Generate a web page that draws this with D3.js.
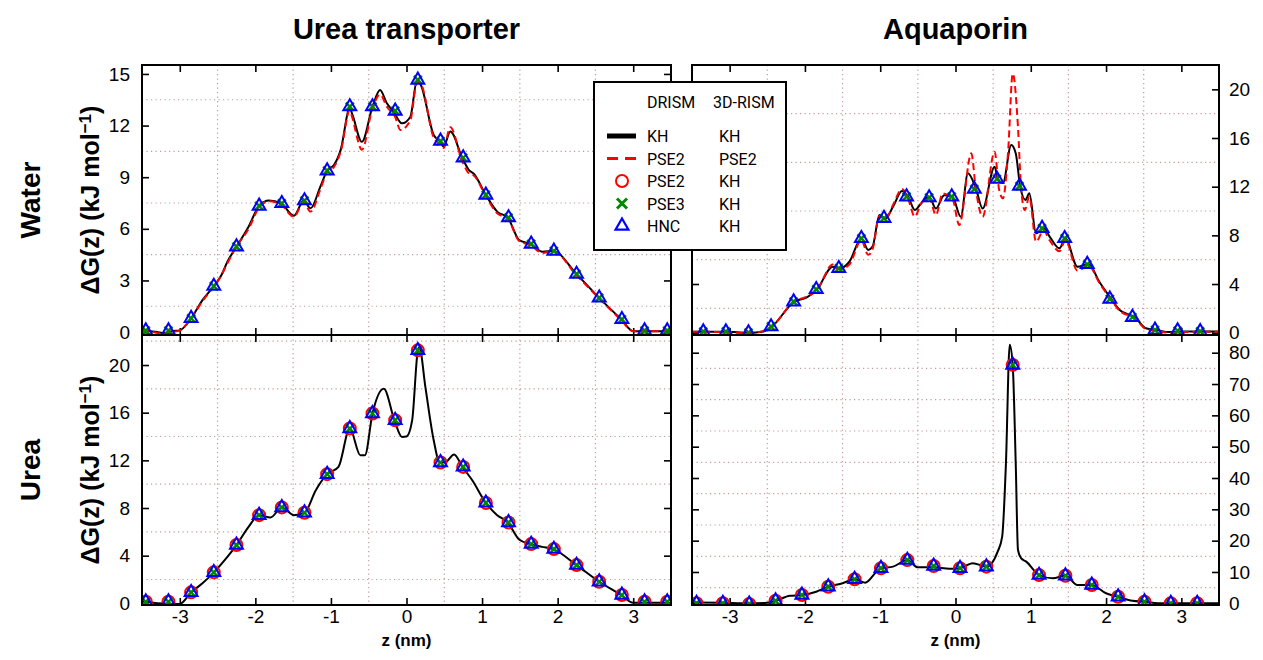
<!DOCTYPE html>
<html lang="en">
<head>
<meta charset="utf-8">
<title>Free energy profiles</title>
<script type="text/javascript" src="https://d3js.org/d3.v7.min.js"></script>
<style type="text/css">
  body { margin: 0; background: #fff; }
  text { font-family: "Liberation Sans", Arial, sans-serif; }
  .legend text { font-family: Roboto, "DejaVu Sans", sans-serif; font-size: 16px; }
</style>
</head>
<body>
<script type="text/javascript">

// ---- data (z in nm, dG in kJ/mol) ----
var zTicks = [-3, -2, -1, 0, 1, 2, 3];
var zGrid = [-2.5, -1.5, -0.5, 0.5, 1.5, 2.5];

var utWaterTicks = [0, 3, 6, 9, 12, 15];
var utWaterGrid = [1.5, 4.5, 7.5, 10.5, 13.5];
var aqpWaterTicks = [0, 4, 8, 12, 16, 20];
var aqpWaterGrid = [2, 6, 10, 14, 18];
var utUreaTicks = [0, 4, 8, 12, 16, 20];
var utUreaGrid = [2, 6, 10, 14, 18, 22];
var aqpUreaTicks = [0, 10, 20, 30, 40, 50, 60, 70, 80];
var aqpUreaGrid = [5, 15, 25, 35, 45, 55, 65, 75];

// urea transporter, water
var utWaterKH = [[-3.5,0.1],[-3.45,0.08],[-3.3,0.0],[-3.2,-0.05],[-3.1,0.05],[-3.0,0.1],[-2.85,0.8],[-2.7,1.86],
  [-2.55,2.67],[-2.45,3.3],[-2.37,4.09],[-2.25,4.96],[-2.09,6.12],[-1.95,7.33],[-1.82,7.64],[-1.66,7.48],
  [-1.49,6.76],[-1.36,7.64],[-1.27,7.19],[-1.14,8.45],[-1.05,9.38],[-0.96,9.7],[-0.87,10.6],[-0.75,13.0],
  [-0.72,12.7],[-0.59,11.06],[-0.45,13.1],[-0.35,14.07],[-0.26,13.3],[-0.17,12.8],[-0.06,12.13],[0.05,12.5],
  [0.14,14.65],[0.19,14.36],[0.36,11.45],[0.45,11.06],[0.49,10.77],[0.58,11.65],[0.74,10.1],[0.83,9.4],
  [0.89,9.2],[1.05,7.97],[1.2,7.0],[1.34,6.65],[1.49,5.35],[1.64,5.12],[1.8,4.67],[1.94,4.71],[2.25,3.37],
  [2.55,1.99],[2.84,0.74],[3.0,0.05],[3.5,0.05]];
var utWaterPSE2 = [[-3.5,0.1],[-3.45,0.08],[-3.3,-0.05],[-3.2,-0.1],[-3.1,0.0],[-3.0,0.1],[-2.85,0.8],[-2.7,1.8],
  [-2.55,2.65],[-2.45,3.3],[-2.37,4.0],[-2.25,4.96],[-2.09,6.0],[-1.95,7.25],[-1.82,7.6],[-1.66,7.4],
  [-1.49,6.7],[-1.36,7.55],[-1.27,7.0],[-1.14,8.3],[-1.05,9.3],[-0.96,9.6],[-0.87,10.5],[-0.75,12.9],
  [-0.72,12.5],[-0.59,10.6],[-0.45,13.0],[-0.35,13.8],[-0.26,13.1],[-0.15,12.5],[-0.08,11.74],[0.05,12.3],
  [0.14,14.5],[0.19,14.4],[0.36,11.3],[0.45,10.9],[0.49,10.7],[0.58,11.9],[0.74,9.9],[0.83,9.2],
  [0.89,9.1],[1.05,7.9],[1.2,6.9],[1.34,6.6],[1.49,5.3],[1.64,5.05],[1.8,4.6],[1.94,4.7],[2.25,3.3],
  [2.55,1.95],[2.84,0.7],[3.0,0.05],[3.5,0.05]];
var utWaterMarks = [[-3.45,0.08],[-3.15,0.08],[-2.85,0.8],[-2.55,2.67],[-2.25,4.96],[-1.95,7.33],[-1.65,7.48],
  [-1.35,7.64],[-1.05,9.38],[-0.75,13.1],[-0.45,13.1],[-0.15,12.85],[0.15,14.65],[0.45,11.1],[0.75,10.13],
  [1.05,7.97],[1.35,6.65],[1.65,5.12],[1.95,4.71],[2.25,3.37],[2.55,1.99],[2.85,0.74],[3.15,0.08],[3.45,0.08]];

// aquaporin, water
var aqpWaterKH = [[-3.5,0.08],[-3.05,0.08],[-2.75,0.0],[-2.55,0.1],[-2.44,0.5],[-2.14,2.55],[-1.98,2.88],
  [-1.84,3.56],[-1.63,5.42],[-1.54,5.29],[-1.41,5.83],[-1.25,7.75],[-1.16,6.8],[-1.1,7.1],[-1.01,9.67],
  [-0.93,9.4],[-0.83,10.35],[-0.71,11.64],[-0.63,11.18],[-0.54,10.08],[-0.46,10.6],[-0.35,11.18],[-0.26,10.2],
  [-0.15,11.3],[-0.04,11.18],[0.07,9.53],[0.165,13.1],[0.27,11.87],[0.36,10.2],[0.52,13.64],[0.56,12.7],
  [0.63,12.3],[0.74,15.42],[0.8,14.74],[0.86,12.0],[0.93,10.9],[0.98,11.45],[1.07,8.17],[1.17,8.58],
  [1.25,7.9],[1.38,6.93],[1.46,7.75],[1.62,5.42],[1.77,5.62],[1.91,4.19],[2.07,2.77],[2.18,1.87],
  [2.38,1.27],[2.53,0.36],[2.67,0.22],[2.84,0.05],[2.97,0.1],[3.5,0.1]];
var aqpWaterPSE2 = [[-3.5,0.08],[-3.05,0.05],[-2.75,-0.05],[-2.55,0.15],[-2.44,0.5],[-2.14,2.6],[-1.98,2.95],
  [-1.84,3.5],[-1.63,5.6],[-1.54,5.2],[-1.41,5.6],[-1.25,7.6],[-1.16,6.4],[-1.1,6.9],[-1.01,9.6],
  [-0.93,9.3],[-0.83,10.5],[-0.71,11.8],[-0.63,11.0],[-0.54,9.53],[-0.46,10.6],[-0.35,11.1],[-0.26,9.67],
  [-0.17,11.45],[-0.04,11.0],[0.05,8.85],[0.21,14.74],[0.27,11.8],[0.36,9.53],[0.52,14.87],[0.58,11.73],
  [0.63,11.04],[0.7,15.0],[0.76,21.3],[0.83,16.9],[0.87,12.0],[0.92,10.08],[0.98,11.18],[1.07,7.48],
  [1.17,8.4],[1.25,7.6],[1.38,6.7],[1.46,7.6],[1.62,5.1],[1.77,5.5],[1.91,4.1],[2.07,2.7],[2.18,1.8],
  [2.38,1.2],[2.53,0.3],[2.67,0.15],[2.84,0.0],[2.97,0.05],[3.5,0.08]];
var aqpWaterMarks = [[-3.35,0.08],[-3.05,0.08],[-2.75,0.0],[-2.45,0.5],[-2.15,2.55],[-1.85,3.56],[-1.55,5.29],
  [-1.25,7.75],[-0.95,9.4],[-0.65,11.18],[-0.35,11.1],[-0.05,11.18],[0.25,11.8],[0.55,12.63],[0.85,12.05],
  [1.15,8.58],[1.45,7.75],[1.75,5.62],[2.05,2.77],[2.35,1.27],[2.65,0.22],[2.95,0.16],[3.25,0.1]];

// urea transporter, urea
var utUreaKH = [[-3.5,0.13],[-3.45,0.13],[-3.3,0.0],[-3.0,-0.05],[-2.85,0.92],[-2.7,1.68],[-2.55,2.6],
  [-2.37,3.9],[-2.25,4.89],[-2.09,6.42],[-1.95,7.4],[-1.8,7.2],[-1.65,8.05],[-1.49,7.4],[-1.35,7.6],
  [-1.2,9.5],[-1.05,10.84],[-0.9,11.45],[-0.75,14.67],[-0.61,12.43],[-0.55,12.43],[-0.45,15.93],[-0.3,18.0],
  [-0.16,15.37],[-0.06,13.97],[0.0,14.0],[0.075,15.37],[0.15,21.23],[0.17,21.5],[0.25,18.15],[0.36,13.69],
  [0.44,11.82],[0.52,11.87],[0.63,12.5],[0.74,11.45],[0.87,10.33],[1.05,8.43],[1.2,7.4],[1.34,6.79],
  [1.49,5.36],[1.64,4.97],[1.79,4.74],[1.94,4.55],[2.25,3.21],[2.55,1.81],[2.84,0.7],[3.0,0.05],[3.5,0.05]];
var utUreaMarks = [[-3.45,0.13],[-3.15,0.13],[-2.85,0.92],[-2.55,2.6],[-2.25,4.89],[-1.95,7.4],[-1.65,8.05],
  [-1.35,7.6],[-1.05,10.84],[-0.75,14.67],[-0.45,15.93],[-0.15,15.37],[0.15,21.23],[0.45,11.82],[0.75,11.45],
  [1.05,8.43],[1.35,6.79],[1.65,4.97],[1.95,4.55],[2.25,3.21],[2.55,1.81],[2.85,0.7],[3.15,0.13],[3.45,0.13]];

// aquaporin, urea
var aqpUreaKH = [[-3.5,0.3],[-3.1,0.2],[-2.75,0.0],[-2.5,0.2],[-2.39,0.8],[-2.2,2.4],[-2.04,2.65],[-1.85,3.7],
  [-1.69,5.3],[-1.5,6.4],[-1.34,7.67],[-1.2,6.6],[-1.05,10.1],[-0.99,11.2],[-0.83,11.7],[-0.64,13.8],
  [-0.5,11.5],[-0.29,11.5],[-0.08,11.0],[0.06,11.2],[0.23,12.8],[0.41,11.7],[0.56,16.5],[0.62,21.3],
  [0.67,44.7],[0.72,82.5],[0.76,76.0],[0.8,44.7],[0.83,17.0],[0.87,14.4],[0.94,13.3],[1.11,9.0],[1.29,8.0],
  [1.46,8.8],[1.62,5.85],[1.81,5.85],[2.0,3.2],[2.16,2.1],[2.35,0.8],[2.51,0.5],[2.75,0.0],[3.5,0.0]];
var aqpUreaMarks = [[-3.44,0.0],[-3.09,0.0],[-2.74,-0.2],[-2.39,0.8],[-2.04,2.65],[-1.69,5.3],[-1.34,7.67],
  [-0.99,11.2],[-0.64,13.8],[-0.29,11.9],[0.06,11.2],[0.41,11.7],[0.76,76.1],[1.11,9.0],[1.46,8.8],
  [1.81,5.85],[2.16,2.1],[2.51,0.5],[2.86,0.0],[3.21,0.0]];

// ---- layout ----
var width = 1263, height = 660;
var colX = [[142, 671], [692, 1219]];
var rowY = [[65, 335], [335, 605]];

var panels = [
  { col: 0, row: 0, yDomain: [-0.17, 15.52], ticks: utWaterTicks, grid: utWaterGrid, side: "left",
    kh: utWaterKH, pse2: utWaterPSE2, marks: utWaterMarks, circles: false },
  { col: 1, row: 0, yDomain: [-0.19, 22.0], ticks: aqpWaterTicks, grid: aqpWaterGrid, side: "right",
    kh: aqpWaterKH, pse2: aqpWaterPSE2, marks: aqpWaterMarks, circles: false },
  { col: 0, row: 1, yDomain: [-0.14, 22.52], ticks: utUreaTicks, grid: utUreaGrid, side: "left",
    kh: utUreaKH, pse2: null, marks: utUreaMarks, circles: true },
  { col: 1, row: 1, yDomain: [-0.54, 85.65], ticks: aqpUreaTicks, grid: aqpUreaGrid, side: "right",
    kh: aqpUreaKH, pse2: null, marks: aqpUreaMarks, circles: true }
];

var svg = d3.select("body").append("svg")
  .attr("width", width)
  .attr("height", height);

var gridColor = "#c49a9a";
var tri = d3.symbol().type(d3.symbolTriangle).size(72);

panels.forEach(function(p, i) {
  var x0 = colX[p.col][0], x1 = colX[p.col][1];
  var y0 = rowY[p.row][0], y1 = rowY[p.row][1];

  var x = d3.scaleLinear().domain([-3.5, 3.5]).range([x0, x1]);
  var y = d3.scaleLinear().domain(p.yDomain).range([y1, y0]);

  var g = svg.append("g");

  g.append("clipPath").attr("id", "clip" + i)
    .append("rect").attr("x", x0).attr("y", y0).attr("width", x1 - x0).attr("height", y1 - y0);

  // dotted grid on the minor positions
  g.selectAll(".vg").data(zGrid).enter().append("line")
    .attr("x1", function(d) { return x(d); }).attr("x2", function(d) { return x(d); })
    .attr("y1", y0).attr("y2", y1)
    .attr("stroke", gridColor).attr("stroke-width", 1.2).attr("stroke-dasharray", "1.2,3.3");
  g.selectAll(".hg").data(p.grid).enter().append("line")
    .attr("x1", x0).attr("x2", x1)
    .attr("y1", function(d) { return y(d); }).attr("y2", function(d) { return y(d); })
    .attr("stroke", gridColor).attr("stroke-width", 1.2).attr("stroke-dasharray", "1.2,3.3");

  // axes, ticks pointing inwards on all four sides
  var tk = 7;
  var bottom = g.append("g").attr("transform", "translate(0," + y1 + ")")
    .call(d3.axisBottom(x).tickValues(zTicks).tickSize(-tk).tickPadding(5)
      .tickFormat(p.row === 1 ? function(d) { return d < 0 ? "-" + Math.abs(d) : d; } : ""));
  var top = g.append("g").attr("transform", "translate(0," + y0 + ")")
    .call(d3.axisTop(x).tickValues(zTicks).tickSize(-tk).tickFormat(""));
  var left = g.append("g").attr("transform", "translate(" + x0 + ",0)")
    .call(d3.axisLeft(y).tickValues(p.ticks).tickSize(-tk).tickPadding(12)
      .tickFormat(p.side === "left" ? d3.format("d") : ""));
  var right = g.append("g").attr("transform", "translate(" + x1 + ",0)")
    .call(d3.axisRight(y).tickValues(p.ticks).tickSize(-tk).tickPadding(10)
      .tickFormat(p.side === "right" ? d3.format("d") : ""));

  [bottom, top, left, right].forEach(function(a) {
    a.select(".domain").remove();
    a.selectAll("line").attr("stroke", "#000").attr("stroke-width", 1.6);
    a.selectAll("text").attr("font-size", 19).attr("fill", "#000")
      .style("font-family", "'Liberation Sans', Arial, sans-serif");
  });

  var plot = g.append("g").attr("clip-path", "url(#clip" + i + ")");

  var line = d3.line()
    .x(function(d) { return x(d[0]); })
    .y(function(d) { return y(d[1]); })
    .curve(d3.curveMonotoneX);

  plot.append("path").datum(p.kh)
    .attr("d", line).attr("fill", "none").attr("stroke", "#000").attr("stroke-width", 2);

  if (p.pse2) {
    plot.append("path").datum(p.pse2)
      .attr("d", line).attr("fill", "none").attr("stroke", "#f00").attr("stroke-width", 2)
      .attr("stroke-dasharray", "7,4");
  }

  if (p.circles) {
    plot.selectAll(".c").data(p.marks).enter().append("circle")
      .attr("cx", function(d) { return x(d[0]); })
      .attr("cy", function(d) { return y(d[1]); })
      .attr("r", 6).attr("fill", "none").attr("stroke", "#f00").attr("stroke-width", 2);
  }

  plot.selectAll(".x").data(p.marks).enter().append("path")
    .attr("d", function(d) {
      var cx = x(d[0]), cy = y(d[1]), s = 4;
      return "M" + (cx - s) + "," + (cy - s) + "L" + (cx + s) + "," + (cy + s) +
             "M" + (cx - s) + "," + (cy + s) + "L" + (cx + s) + "," + (cy - s);
    })
    .attr("stroke", "#008800").attr("stroke-width", 2.4);

  plot.selectAll(".t").data(p.marks).enter().append("path")
    .attr("d", tri)
    .attr("transform", function(d) { return "translate(" + x(d[0]) + "," + y(d[1]) + ")"; })
    .attr("fill", "none").attr("stroke", "#00f").attr("stroke-width", 2);

  g.append("rect")
    .attr("x", x0).attr("y", y0).attr("width", x1 - x0).attr("height", y1 - y0)
    .attr("fill", "none").attr("stroke", "#000").attr("stroke-width", 2);

  if (p.row === 1) {
    g.append("text")
      .attr("x", (x0 + x1) / 2).attr("y", 646)
      .attr("text-anchor", "middle").attr("font-size", 17).attr("font-weight", "bold")
      .text("z (nm)");
  }
  if (p.row === 0) {
    g.append("text")
      .attr("x", (x0 + x1) / 2).attr("y", 39)
      .attr("text-anchor", "middle").attr("font-size", 29).attr("font-weight", "bold")
      .text(p.col === 0 ? "Urea transporter" : "Aquaporin");
  }
  if (p.col === 0) {
    var cy = (y0 + y1) / 2;
    g.append("text")
      .attr("transform", "translate(40," + cy + ") rotate(-90)")
      .attr("text-anchor", "middle").attr("font-size", 28).attr("font-weight", "bold")
      .text(p.row === 0 ? "Water" : "Urea");
    var yl = g.append("text")
      .attr("transform", "translate(99," + cy + ") rotate(-90)")
      .attr("text-anchor", "middle").attr("font-size", 25).attr("font-weight", "bold");
    yl.append("tspan").text("\u0394G(z) (kJ mol");
    yl.append("tspan").attr("dy", "-0.5em").attr("font-size", 17).text("\u22121");
    yl.append("tspan").attr("dy", "0.34em").text(")");
  }
});

// ---- legend ----
var legendRows = [
  { type: "line", drism: "KH", rism: "KH" },
  { type: "dash", drism: "PSE2", rism: "PSE2" },
  { type: "circle", drism: "PSE2", rism: "KH" },
  { type: "cross", drism: "PSE3", rism: "KH" },
  { type: "triangle", drism: "HNC", rism: "KH" }
];
var legendY = d3.scalePoint().domain(d3.range(legendRows.length)).range([136, 226]);

var lg = svg.append("g").attr("class", "legend");
lg.append("rect").attr("x", 594).attr("y", 82).attr("width", 192).attr("height", 168)
  .attr("fill", "#fff").attr("stroke", "#000").attr("stroke-width", 2);
lg.append("text").attr("x", 647).attr("y", 108).text("DRISM");
lg.append("text").attr("x", 713).attr("y", 108).text("3D-RISM");

legendRows.forEach(function(r, i) {
  var cy = legendY(i), cx = 622;
  if (r.type === "line") {
    lg.append("line").attr("x1", 607).attr("x2", 636).attr("y1", cy).attr("y2", cy)
      .attr("stroke", "#000").attr("stroke-width", 5);
  } else if (r.type === "dash") {
    lg.append("line").attr("x1", 607).attr("x2", 636).attr("y1", cy).attr("y2", cy)
      .attr("stroke", "#f00").attr("stroke-width", 3).attr("stroke-dasharray", "11,7");
  } else if (r.type === "circle") {
    lg.append("circle").attr("cx", cx).attr("cy", cy).attr("r", 6)
      .attr("fill", "none").attr("stroke", "#f00").attr("stroke-width", 2);
  } else if (r.type === "cross") {
    lg.append("path").attr("d", "M" + (cx - 5) + "," + (cy - 5) + "L" + (cx + 5) + "," + (cy + 5) +
      "M" + (cx - 5) + "," + (cy + 5) + "L" + (cx + 5) + "," + (cy - 5))
      .attr("stroke", "#008800").attr("stroke-width", 3);
  } else {
    lg.append("path").attr("d", tri).attr("transform", "translate(" + cx + "," + cy + ")")
      .attr("fill", "none").attr("stroke", "#00f").attr("stroke-width", 2.2);
  }
  lg.append("text").attr("x", 647).attr("y", cy + 6).text(r.drism);
  lg.append("text").attr("x", 719).attr("y", cy + 6).text(r.rism);
});
</script>
</body>
</html>
